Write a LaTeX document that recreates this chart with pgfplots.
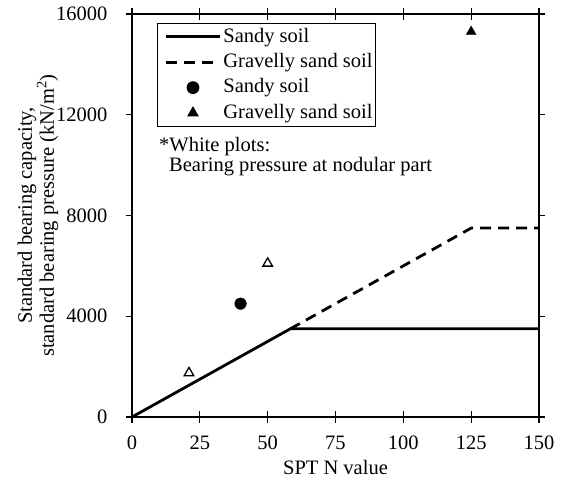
\documentclass[border=0pt]{standalone}
\usepackage{fontspec}
\setmainfont{Liberation Serif}
\usepackage{pgfplots}
\pgfplotsset{compat=1.18}
\begin{document}
\fontsize{20.5}{22}\selectfont
\begin{tikzpicture}
\useasboundingbox (-132pt,-71pt) rectangle (433pt,417pt);
\begin{axis}[
  at={(0pt,0pt)}, anchor=south west,
  scale only axis,
  width=407pt, height=403pt,
  xmin=0, xmax=150, ymin=0, ymax=16000,
  xtick={0,25,...,150},
  ytick={0,4000,...,16000},
  scaled y ticks=false,
  /pgf/number format/assume math mode=true,
  /pgf/number format/1000 sep={},
  axis line style={line width=1.2pt},
  xtick align=center, ytick align=outside,
  major tick length=6pt,
  xtick style={black, line width=1.2pt, /pgfplots/major tick length=11.5pt},
  ytick style={black, line width=1.2pt},
  xticklabel style={anchor=base, inner sep=0pt, yshift=-29.5pt},
  yticklabel style={anchor=east, inner sep=0pt, xshift=-18.5pt},
  xlabel={SPT N value},
  every axis x label/.style={at={(rel axis cs:0.5,0)}, yshift=-57.5pt, anchor=base},
  ylabel={Standard bearing capacity,\\standard bearing pressure (kN/m\textsuperscript{2})},
  every axis y label/.style={at={(rel axis cs:0,0.5)}, xshift=-94pt, rotate=90, anchor=center, align=center},
  legend style={at={(rel axis cs:0.0614,0.978)}, anchor=north west,
    draw=black, line width=1.2pt, inner xsep=1pt, inner ysep=2pt, row sep=2.5pt,
    nodes={inner xsep=2pt, inner ysep=2pt, text height=0.72em, text depth=0.2em}},
  legend cell align=left,
  legend image code/.code={%
    \path (0pt,0pt);
    \draw[mark repeat=2, mark phase=2, #1] plot coordinates {(6pt,0pt) (33pt,0pt) (60pt,0pt)};},
]
% design curves: 60N, capped at 3500 (sand) and 7500 (gravelly sand)
\addplot[black, line width=2.8pt, line join=miter] coordinates {(0,0) (58.33,3500) (150,3500)};
\addlegendentry{Sandy soil}
\addplot[black, line width=2.8pt, dash pattern=on 11pt off 7pt] coordinates {(58.33,3500) (125,7500) (150,7500)};
\addlegendentry{Gravelly sand soil}
% measured values
\addplot[only marks, mark=*, mark size=5.8pt, black] coordinates {(40,4500)};
\addlegendentry{Sandy soil}
\addplot[only marks, mark=triangle*, mark size=5.6pt, black] coordinates {(125,15300)};
\addlegendentry{Gravelly sand soil}
% bearing pressure at nodular part
\addplot[only marks, mark=triangle, mark size=5.5pt, black, mark options={line width=1.3pt, fill=white}, forget plot] coordinates {(21,1750) (50,6100)};
\node[anchor=base west, inner sep=0pt] at (rel axis cs:0.0663,0.660) {*White plots:};
\node[anchor=base west, inner sep=0pt] at (rel axis cs:0.0909,0.609) {Bearing pressure at nodular part};
\end{axis}
\end{tikzpicture}
\end{document}
